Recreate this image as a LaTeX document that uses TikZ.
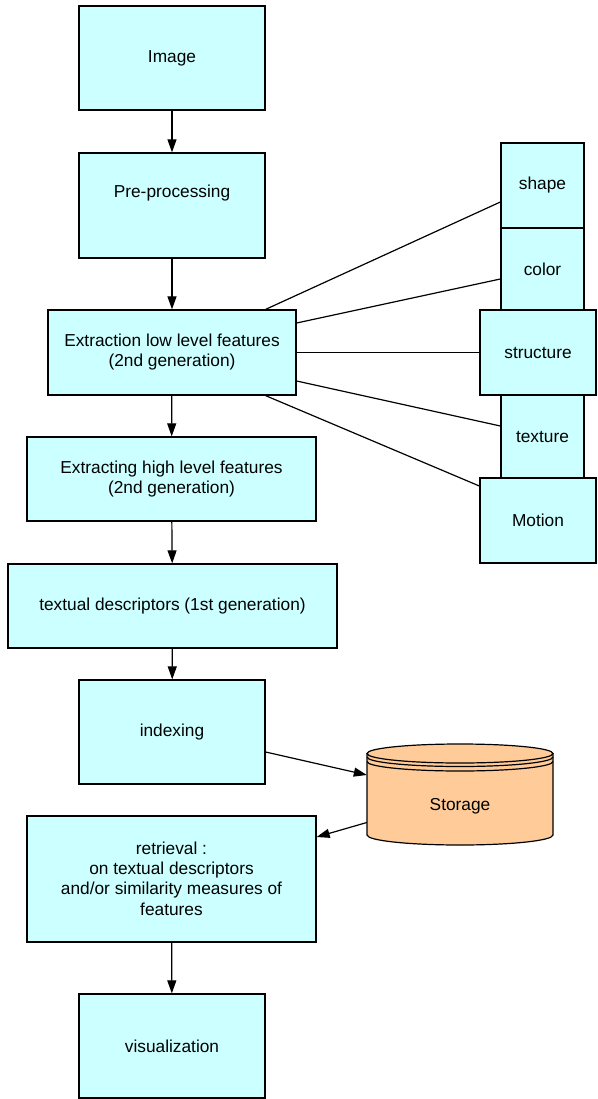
\documentclass[tikz,border=0pt]{standalone}
\usepackage{fontspec}
\setmainfont{Liberation Sans}
\usetikzlibrary{arrows.meta}
\definecolor{boxfill}{HTML}{CCFFFF}
\definecolor{storfill}{HTML}{FFCC99}
\begin{document}
\begin{tikzpicture}[x=1pt,y=-1pt,
  txtfont/.style={font=\fontsize{17.3}{20}\selectfont},
  box/.style={draw=black, fill=boxfill, line width=1.3pt, align=center, inner sep=2pt, txtfont},
  arr/.style={line width=1.2pt, -{Triangle[length=13pt,width=9pt]}},
  ln/.style={line width=1.2pt}]
\useasboundingbox (0,0) rectangle (597,1099);
% main column
\node[box, minimum width=186pt, minimum height=104pt] (img) at (172,58) {Image};
\node[box, minimum width=186pt, minimum height=105pt,
  label={[txtfont, yshift=12pt]center:Pre-processing}] (pre) at (172,205.5) {};
\node[box, minimum width=248pt, minimum height=85pt] (ext) at (172,352.5) {Extraction low level features\\(2nd generation)};
\node[box, minimum width=289pt, minimum height=84pt] (high) at (171.5,479) {Extracting high level features\\(2nd generation)};
\node[box, minimum width=329pt, minimum height=84pt] (txt) at (172.5,606) {textual descriptors (1st generation)};
\node[box, minimum width=186pt, minimum height=104pt] (idx) at (172,732) {indexing};
\node[box, minimum width=289pt, minimum height=126pt] (ret) at (171.5,879) {retrieval :\\on textual descriptors\\and/or similarity measures of\\[1pt]features};
\node[box, minimum width=186pt, minimum height=104pt] (vis) at (172,1046) {visualization};
% right column
\node[box, minimum width=83pt, minimum height=85pt] (shape) at (542.5,185.5) {shape};
\node[box, minimum width=83pt, minimum height=82pt] (color) at (542.5,269) {color};
\node[box, minimum width=83pt, minimum height=83pt] (texture) at (542.5,436.5) {texture};
\node[box, minimum width=116pt, minimum height=85pt] (structure) at (538,352.5) {structure};
\node[box, minimum width=116pt, minimum height=85pt] (motion) at (538,520.5) {Motion};
% storage cylinder
\path[fill=storfill] (367,753.5) -- (367,835) arc[start angle=180,end angle=360,x radius=93pt,y radius=10pt] -- (553,753.5) arc[start angle=0,end angle=180,x radius=93pt,y radius=9.5pt] -- cycle;
\draw[ln] (367,753.5) -- (367,835) arc[start angle=180,end angle=360,x radius=93pt,y radius=10pt] -- (553,753.5);
\draw[ln] (460,753.5) ellipse[x radius=93pt, y radius=9.5pt];
\draw[ln] (367,757) arc[start angle=180,end angle=360,x radius=93pt,y radius=9.5pt];
\draw[ln] (367,761.5) arc[start angle=180,end angle=360,x radius=93pt,y radius=9.5pt];
\node[inner sep=0pt, minimum width=186pt, minimum height=101pt,
  label={[txtfont, yshift=-12pt]center:Storage}] (stor) at (460,794.5) {};
% vertical arrows
\draw[arr] (img) -- (pre);
\draw[arr] (pre) -- (ext);
\draw[arr] (ext) -- (high);
\draw[arr] (high) -- (txt);
\draw[arr] (txt) -- (idx);
\draw[arr] (ret) -- (vis);
% storage arrows
\draw[arr] ([yshift=-20pt]idx.east) -- ([yshift=19.5pt]stor.west);
\draw[arr] ([yshift=-28pt]stor.west) -- ([yshift=42pt]ret.east);
% feature lines
\draw[ln] ([xshift=-31pt]ext.north east) -- ([yshift=-16.5pt]shape.west);
\draw[ln] ([yshift=29.5pt]ext.east) -- ([yshift=-10pt]color.west);
\draw[ln] (ext.east) -- (structure.west);
\draw[ln] ([yshift=-28.5pt]ext.east) -- ([yshift=10.5pt]texture.west);
\draw[ln] ([xshift=-31pt]ext.south east) -- ([yshift=34.5pt]motion.west);
\end{tikzpicture}
\end{document}
